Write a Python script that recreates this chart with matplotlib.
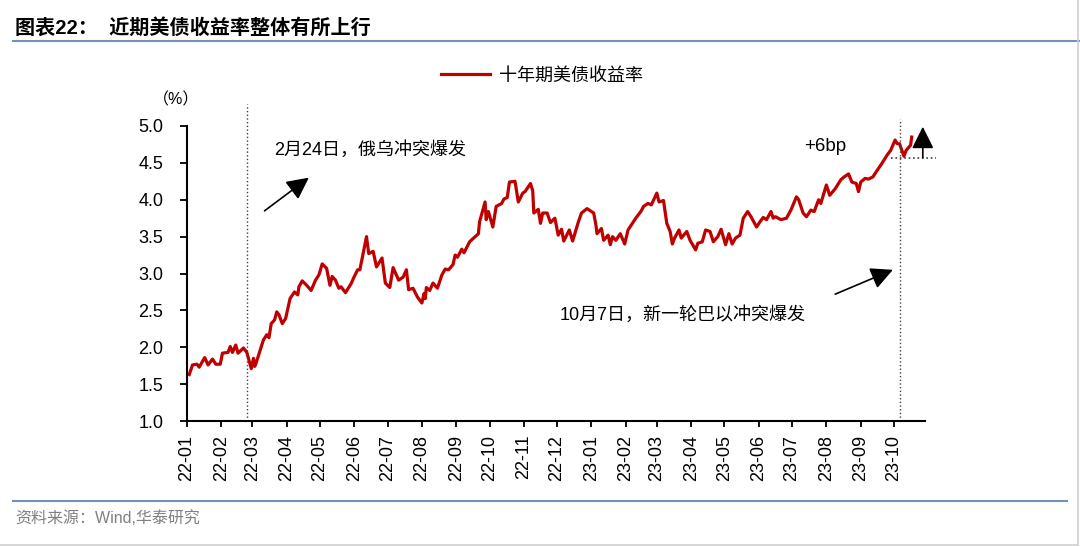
import matplotlib
matplotlib.use("Agg")
import matplotlib.pyplot as plt
import matplotlib.dates as mdates
from matplotlib.lines import Line2D
import pandas as pd

plt.rcParams['font.family'] = ['Liberation Sans', 'Noto Sans CJK SC', 'DejaVu Sans']

title = "图表22：  近期美债收益率整体有所上行"
series_name = "十年期美债收益率"
source = "资料来源：Wind,华泰研究"
note_1 = "2月24日，俄乌冲突爆发"
note_2 = "10月7日，新一轮巴以冲突爆发"
note_bp = "+6bp"

dates = [
    "2022-01-03", "2022-01-06", "2022-01-10", "2022-01-12", "2022-01-17", "2022-01-20",
    "2022-01-24", "2022-01-27", "2022-01-31", "2022-02-02", "2022-02-07", "2022-02-09",
    "2022-02-11", "2022-02-14", "2022-02-16", "2022-02-21", "2022-02-24", "2022-02-28",
    "2022-03-02", "2022-03-03", "2022-03-04", "2022-03-08", "2022-03-11", "2022-03-14",
    "2022-03-16", "2022-03-18", "2022-03-21", "2022-03-23", "2022-03-25", "2022-03-28",
    "2022-03-31", "2022-04-04", "2022-04-08", "2022-04-11", "2022-04-12", "2022-04-15",
    "2022-04-19", "2022-04-23", "2022-04-27", "2022-04-30", "2022-05-03", "2022-05-07",
    "2022-05-10", "2022-05-12", "2022-05-15", "2022-05-18", "2022-05-20", "2022-05-24",
    "2022-05-29", "2022-06-01", "2022-06-04", "2022-06-06", "2022-06-12", "2022-06-14",
    "2022-06-18", "2022-06-21", "2022-06-26", "2022-06-29", "2022-07-03", "2022-07-06",
    "2022-07-11", "2022-07-15", "2022-07-18", "2022-07-20", "2022-07-24", "2022-07-28",
    "2022-08-01", "2022-08-03", "2022-08-04", "2022-08-05", "2022-08-08", "2022-08-11",
    "2022-08-15", "2022-08-19", "2022-08-22", "2022-08-25", "2022-08-29", "2022-08-31",
    "2022-09-02", "2022-09-06", "2022-09-08", "2022-09-13", "2022-09-18", "2022-09-21",
    "2022-09-22", "2022-09-27", "2022-09-28", "2022-09-30", "2022-10-04", "2022-10-07",
    "2022-10-12", "2022-10-14", "2022-10-17", "2022-10-19", "2022-10-24", "2022-10-27",
    "2022-10-31", "2022-11-02", "2022-11-07", "2022-11-09", "2022-11-10", "2022-11-14",
    "2022-11-16", "2022-11-18", "2022-11-22", "2022-11-25", "2022-11-29", "2022-12-02",
    "2022-12-05", "2022-12-07", "2022-12-12", "2022-12-15", "2022-12-20", "2022-12-23",
    "2022-12-28", "2023-01-03", "2023-01-05", "2023-01-06", "2023-01-10", "2023-01-12",
    "2023-01-16", "2023-01-18", "2023-01-20", "2023-01-23", "2023-01-27", "2023-01-31",
    "2023-02-03", "2023-02-07", "2023-02-10", "2023-02-15", "2023-02-17", "2023-02-21",
    "2023-02-24", "2023-03-01", "2023-03-03", "2023-03-07", "2023-03-10", "2023-03-13",
    "2023-03-15", "2023-03-17", "2023-03-21", "2023-03-23", "2023-03-28", "2023-03-31",
    "2023-04-05", "2023-04-07", "2023-04-11", "2023-04-14", "2023-04-18", "2023-04-21",
    "2023-04-25", "2023-04-28", "2023-05-02", "2023-05-05", "2023-05-08", "2023-05-11",
    "2023-05-15", "2023-05-18", "2023-05-22", "2023-05-25", "2023-05-30", "2023-06-02",
    "2023-06-05", "2023-06-08", "2023-06-12", "2023-06-14", "2023-06-16", "2023-06-21",
    "2023-06-26", "2023-06-30", "2023-07-05", "2023-07-07", "2023-07-11", "2023-07-14",
    "2023-07-18", "2023-07-21", "2023-07-25", "2023-07-27", "2023-08-01", "2023-08-04",
    "2023-08-09", "2023-08-14", "2023-08-17", "2023-08-21", "2023-08-24", "2023-08-28",
    "2023-08-30", "2023-09-01", "2023-09-05", "2023-09-08", "2023-09-12", "2023-09-15",
    "2023-09-20", "2023-09-25", "2023-09-28", "2023-10-02", "2023-10-04", "2023-10-06",
    "2023-10-10", "2023-10-12", "2023-10-16", "2023-10-17",
]

yields = [
    1.63, 1.76, 1.77, 1.73, 1.86, 1.76,
    1.84, 1.77, 1.77, 1.92, 1.93, 2.01,
    1.93, 2.03, 1.92, 1.99, 1.93, 1.71,
    1.85, 1.74, 1.77, 1.96, 2.10, 2.17,
    2.13, 2.32, 2.37, 2.48, 2.44, 2.32,
    2.39, 2.66, 2.75, 2.71, 2.82, 2.90,
    2.84, 2.77, 2.91, 2.98, 3.13, 3.07,
    2.84, 2.96, 2.91, 2.80, 2.82, 2.74,
    2.86, 2.96, 3.05, 3.05, 3.50, 3.27,
    3.30, 3.09, 3.21, 2.87, 2.81, 3.08,
    2.91, 2.95, 3.05, 2.78, 2.80, 2.68,
    2.60, 2.73, 2.66, 2.81, 2.77, 2.87,
    2.80, 2.98, 3.06, 3.05, 3.12, 3.25,
    3.22, 3.33, 3.28, 3.43, 3.50, 3.54,
    3.70, 3.97, 3.73, 3.84, 3.63, 3.91,
    3.95, 4.01, 4.03, 4.24, 4.25, 3.97,
    4.09, 4.11, 4.22, 4.12, 3.82, 3.87,
    3.68, 3.82, 3.82, 3.69, 3.75, 3.52,
    3.60, 3.44, 3.59, 3.44, 3.69, 3.82,
    3.88, 3.82, 3.66, 3.54, 3.61, 3.45,
    3.52, 3.39, 3.50, 3.45, 3.54, 3.40,
    3.59, 3.68, 3.75, 3.85, 3.91, 3.95,
    3.93, 4.09, 3.97, 3.99, 3.68, 3.57,
    3.40, 3.48, 3.59, 3.48, 3.57, 3.45,
    3.32, 3.41, 3.43, 3.59, 3.57, 3.43,
    3.50, 3.60, 3.39, 3.54, 3.40, 3.48,
    3.52, 3.75, 3.84, 3.77, 3.63, 3.70,
    3.76, 3.73, 3.84, 3.75, 3.77, 3.73,
    3.75, 3.86, 4.04, 4.00, 3.82, 3.77,
    3.86, 3.84, 4.00, 3.95, 4.20, 4.06,
    4.15, 4.27, 4.31, 4.35, 4.24, 4.22,
    4.11, 4.24, 4.29, 4.28, 4.31, 4.38,
    4.49, 4.61, 4.67, 4.81, 4.76, 4.76,
    4.59, 4.67, 4.74, 4.85,
]

event_dates = ["2022-02-24", "2023-10-06"]
event_tops = [5.30, 5.09]
base_level = 4.57
y_ticks = [1.0, 1.5, 2.0, 2.5, 3.0, 3.5, 4.0, 4.5, 5.0]

x = pd.to_datetime(dates)
d = pd.Timestamp

fig = plt.figure(figsize=(10.8, 5.47), dpi=100)
ax = fig.add_axes([187 / 1080, 1 - 421 / 547, (925 - 187) / 1080, (421 - 126) / 547])

line, = ax.plot(x, yields, color="#c00000", lw=2.3, label=series_name)

ax.set_xlim(d("2022-01-01"), d("2023-10-29"))
ax.set_ylim(1.0, 5.0)
ax.set_yticks(y_ticks)
ax.set_yticklabels([f"{v:.1f}" for v in y_ticks])
ax.xaxis.set_major_locator(mdates.MonthLocator(bymonth=range(1, 13)))
ax.set_xticks([t for t in ax.get_xticks() if t <= mdates.date2num(d("2023-10-01"))])
ax.xaxis.set_major_formatter(mdates.DateFormatter("%y-%m"))
for lab in ax.get_xticklabels():
    lab.set_rotation(90)

for s in ["top", "right"]:
    ax.spines[s].set_visible(False)
for s in ["left", "bottom"]:
    ax.spines[s].set_linewidth(1.5)
ax.tick_params(axis="y", direction="out", length=5, width=1.3, pad=12, labelsize=13)
ax.tick_params(axis="x", direction="out", length=4, width=1.3, pad=6, labelsize=13)

# event lines
for ed, top in zip(event_dates, event_tops):
    ax.plot([d(ed), d(ed)], [1.0, top], color="#404040", lw=1.0, ls=":", clip_on=False)
ax.plot([d("2023-09-28"), d("2023-11-08")], [base_level, base_level],
        color="#404040", lw=1.2, ls=":", clip_on=False)

arrow = dict(arrowstyle="-|>,head_length=0.9,head_width=0.45", color="black",
             lw=1.2, mutation_scale=15, shrinkA=0, shrinkB=0)
ax.annotate("", xy=(d("2022-04-21"), 4.30), xytext=(d("2022-03-12"), 3.85),
            arrowprops=arrow, annotation_clip=False)
ax.annotate("", xy=(d("2023-09-30"), 3.05), xytext=(d("2023-08-09"), 2.72),
            arrowprops=arrow, annotation_clip=False)
ax.annotate("", xy=(d("2023-10-27"), 4.99), xytext=(d("2023-10-27"), base_level),
            arrowprops=arrow, annotation_clip=False)

ax.text(d("2022-03-21"), 4.67, note_1, fontsize=13, va="center", ha="left")
ax.text(d("2022-12-03"), 2.44, note_2, fontsize=13, va="center", ha="left")
ax.text(d("2023-07-12"), 4.72, note_bp, fontsize=13.5, va="center", ha="left")

fig.text(176 / 1080, 1 - 100 / 547, "（%）", fontsize=11.5, ha="center", va="center")

fig.legend(handles=[line], loc="center", bbox_to_anchor=(542 / 1080, 1 - 76 / 547),
           frameon=False, fontsize=13, handlelength=2.7, handletextpad=0.5)

# header and footer
fig.text(15 / 1080, 1 - 28 / 547, title, fontsize=14.5, fontweight="bold",
         ha="left", va="center")
fig.add_artist(Line2D([13 / 1080, 1.0], [1 - 41 / 547] * 2, color="#7391b9", lw=1.5))
fig.add_artist(Line2D([13 / 1080, 1067 / 1080], [1 - 501 / 547] * 2, color="#7391b9", lw=1.5))
fig.text(15 / 1080, 1 - 518 / 547, source, fontsize=11.5, color="#808080",
         ha="left", va="center")
fig.add_artist(Line2D([1078 / 1080] * 2, [1 - 545 / 547, 1.0], color="#d0d0d0", lw=1.2))
fig.add_artist(Line2D([0.0, 1078 / 1080], [1 - 545 / 547] * 2, color="#d0d0d0", lw=1.2))

fig.savefig("out.png", dpi=100)
